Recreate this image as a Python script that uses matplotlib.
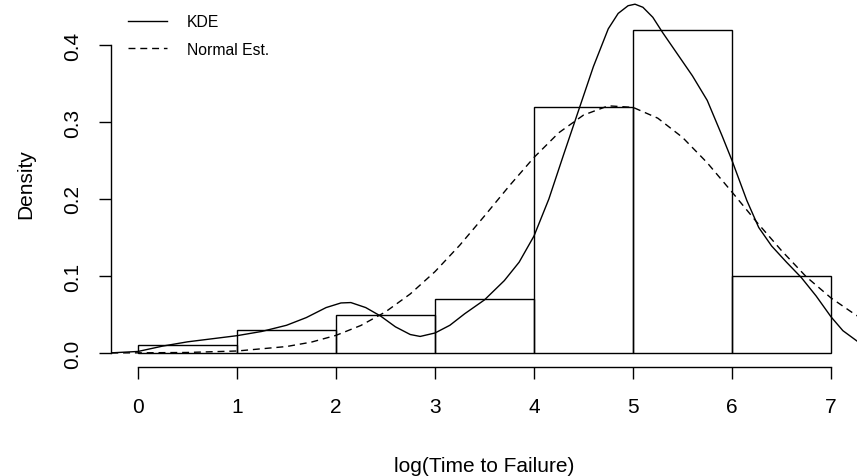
import matplotlib
matplotlib.use('Agg')
import matplotlib.pyplot as plt

plt.rcParams['font.family'] = ['Liberation Sans', 'DejaVu Sans']

# histogram of log(time to failure), density scale
bin_edges = [0, 1, 2, 3, 4, 5, 6, 7]
densities = [0.01, 0.03, 0.05, 0.07, 0.32, 0.42, 0.10]

# kernel density estimate
kde_x = [-0.27, 0.0, 0.25, 0.5, 0.75, 1.0, 1.25, 1.5, 1.7, 1.9, 2.05, 2.15, 2.3,
         2.45, 2.6, 2.75, 2.85, 3.0, 3.15, 3.3, 3.5, 3.7, 3.85, 4.0, 4.15, 4.3,
         4.45, 4.6, 4.75, 4.85, 4.95, 5.02, 5.1, 5.2, 5.3, 5.45, 5.6, 5.75, 5.9,
         6.0, 6.15, 6.27, 6.4, 6.55, 6.7, 6.85, 7.0, 7.12, 7.3]
kde_y = [0.0002, 0.002, 0.009, 0.0145, 0.0185, 0.0225, 0.028, 0.036, 0.046, 0.059,
         0.065, 0.0655, 0.059, 0.048, 0.034, 0.024, 0.0215, 0.026, 0.036, 0.051,
         0.069, 0.094, 0.118, 0.152, 0.200, 0.258, 0.315, 0.372, 0.421, 0.441,
         0.451, 0.453, 0.449, 0.436, 0.416, 0.388, 0.360, 0.328, 0.282, 0.250,
         0.198, 0.163, 0.139, 0.118, 0.098, 0.074, 0.047, 0.029, 0.012]

# normal fit curve
norm_x = [-0.27, 0.0, 0.5, 1.0, 1.5, 1.75, 2.0, 2.25, 2.5, 2.75, 3.0, 3.25, 3.5,
          3.75, 4.0, 4.25, 4.5, 4.75, 5.0, 5.25, 5.5, 5.75, 6.0, 6.25, 6.5,
          6.75, 7.0, 7.25, 7.3]
norm_y = [0.0001, 0.0002, 0.0007, 0.0026, 0.0084, 0.0141, 0.0229, 0.0357, 0.0534,
          0.0767, 0.1057, 0.140, 0.178, 0.217, 0.254, 0.286, 0.309, 0.321, 0.319,
          0.305, 0.280, 0.247, 0.209, 0.170, 0.133, 0.099, 0.0715, 0.0494, 0.0457]

W, H = 857, 477
fig = plt.figure(figsize=(W / 100, H / 100), dpi=100)
ax = fig.add_axes([111 / W, (H - 368) / H, 1 - 111 / W, 368 / H])

lefts = bin_edges[:-1]
ax.bar(lefts, densities, width=1, align='edge', fill=False,
       edgecolor='black', linewidth=1.0)
ax.plot(kde_x, kde_y, color='black', linewidth=1.0, label='KDE')
ax.plot(norm_x, norm_y, color='black', linewidth=1.0, dashes=(5, 3.5),
        label='Normal Est.')

ax.set_xlim(-0.273, (W - 138) / 99)
ax.set_ylim(-14 / 770, 354 / 770)

for s in ['top', 'right', 'bottom']:
    ax.spines[s].set_visible(False)
ax.spines['left'].set_bounds(0, 0.4)
ax.spines['left'].set_linewidth(1.0)

ax.set_yticks([0.0, 0.1, 0.2, 0.3, 0.4])
ax.set_yticklabels(['0.0', '0.1', '0.2', '0.3', '0.4'], rotation=90, va='center')
ax.tick_params(axis='y', length=8.6, width=1.0, labelsize=15, pad=12)
ax.set_xticks([])
ax.set_ylabel('Density', fontsize=15, labelpad=20)

# separate x axis below the plot, as in base R
xax = fig.add_axes([111 / W, (H - 368) / H, 1 - 111 / W, 0.001])
xax.set_xlim(ax.get_xlim())
xax.set_ylim(0, 1)
for s in ['top', 'right', 'left']:
    xax.spines[s].set_visible(False)
xax.spines['bottom'].set_bounds(0, 7)
xax.spines['bottom'].set_linewidth(1.0)
xax.set_yticks([])
xax.set_xticks(range(8))
xax.tick_params(axis='x', length=8.6, width=1.0, labelsize=15, pad=13)
xax.set_xlabel('log(Time to Failure)', fontsize=15, labelpad=29)
xax.patch.set_visible(False)

ax.legend(loc='upper left', bbox_to_anchor=(128 / W, 1 - 15 / H),
          bbox_transform=fig.transFigure, frameon=False, fontsize=11.3,
          handlelength=2.5, handletextpad=1.25, labelspacing=0.82,
          borderpad=0, borderaxespad=0)

fig.savefig('out.png', dpi=100)
